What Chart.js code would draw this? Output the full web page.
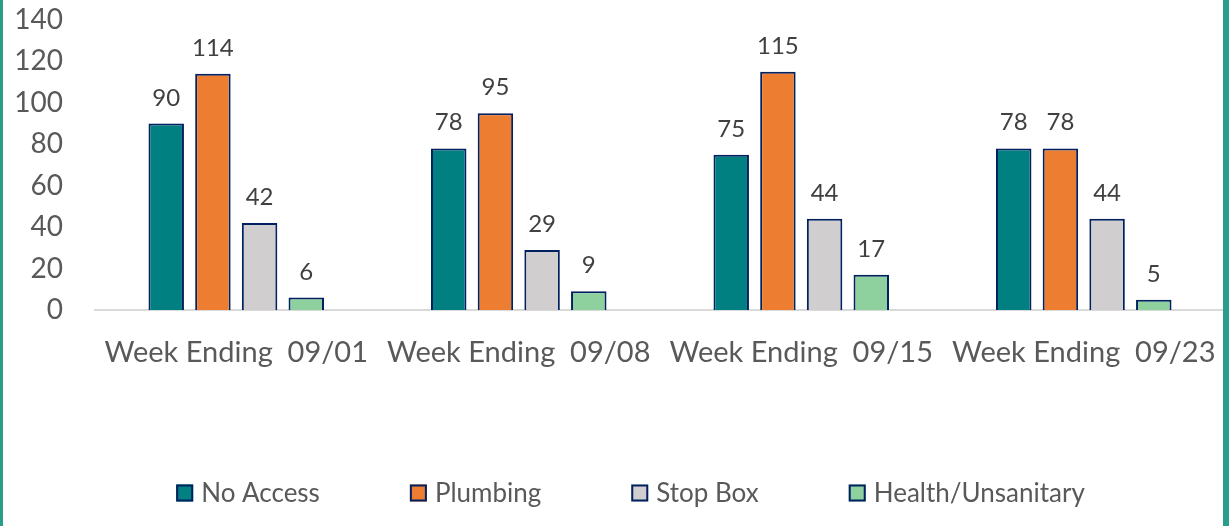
<!DOCTYPE html>
<html><head><meta charset="utf-8">
<script src="https://cdn.jsdelivr.net/npm/chart.js@4"></script>
<style>
html,body{margin:0;padding:0;background:#fff;}
#wrap{position:relative;width:1229px;height:526px;overflow:hidden;}
#bl{position:absolute;left:0;top:0;width:3px;height:526px;background:#2A9D8A;}
#br{position:absolute;right:0;top:0;width:6px;height:526px;background:#2A9D8A;}
canvas{display:block;}
</style></head><body>
<div id="wrap"><canvas id="c" width="1229" height="526"></canvas><div id="bl"></div><div id="br"></div></div>
<script>
const categories = ['Week Ending  09/01', 'Week Ending  09/08', 'Week Ending  09/15', 'Week Ending  09/23'];
const seriesNames = ['No Access', 'Plumbing', 'Stop Box', 'Health/Unsanitary'];
const noAccess = [90, 78, 75, 78];
const plumbing = [114, 95, 115, 78];
const stopBox = [42, 29, 44, 44];
const health = [6, 9, 17, 5];
const yTickValues = [0, 20, 40, 60, 80, 100, 120, 140];

const fillColors = ['#008080', '#ED7D31', '#D0CECE', '#8FD19E'];
const edgeColor = '#002060';
const FONT = 'Lato, "Noto Sans", sans-serif';

const valueLabels = {
  id: 'valueLabels',
  afterDatasetsDraw(chart) {
    const ctx = chart.ctx;
    ctx.save();
    ctx.font = '24px ' + FONT;
    ctx.fillStyle = '#404040';
    ctx.textAlign = 'center';
    ctx.textBaseline = 'alphabetic';
    chart.data.datasets.forEach((ds, i) => {
      chart.getDatasetMeta(i).data.forEach((el, j) => {
        ctx.fillText(String(ds.data[j]), el.x, el.y - 18);
      });
    });
    ctx.restore();
  }
};

const bottomLegend = {
  id: 'bottomLegend',
  afterDraw(chart) {
    const ctx = chart.ctx;
    ctx.save();
    ctx.font = '26px ' + FONT;
    const box = 17, gapText = 8, gapItem = 90;
    const widths = seriesNames.map(n => box + gapText + ctx.measureText(n).width);
    const total = widths.reduce((a, b) => a + b, 0) + gapItem * (seriesNames.length - 1);
    let x = 630.5 - total / 2;
    const yc = 493;
    seriesNames.forEach((n, i) => {
      ctx.fillStyle = fillColors[i];
      ctx.fillRect(x, yc - box / 2, box, box);
      ctx.strokeStyle = edgeColor;
      ctx.lineWidth = 2;
      ctx.strokeRect(x + 1, yc - box / 2 + 1, box - 2, box - 2);
      ctx.fillStyle = '#595959';
      ctx.textAlign = 'left';
      ctx.textBaseline = 'middle';
      ctx.fillText(n, x + box + gapText, yc + 1);
      x += widths[i] + gapItem;
    });
    ctx.restore();
  }
};

const datasets = [noAccess, plumbing, stopBox, health].map((d, i) => ({
  label: seriesNames[i],
  data: d,
  backgroundColor: fillColors[i],
  borderColor: edgeColor,
  borderWidth: 2,
  categoryPercentage: 0.661,
  barPercentage: 0.76
}));

new Chart(document.getElementById('c'), {
  type: 'bar',
  data: { labels: categories, datasets },
  options: {
    responsive: false,
    devicePixelRatio: 1,
    animation: false,
    layout: { padding: { top: 20, right: 4, bottom: 150, left: 0 } },
    plugins: { legend: { display: false }, tooltip: { enabled: false } },
    scales: {
      x: {
        grid: { display: false, drawTicks: true, tickLength: 25 },
        border: { display: true, color: '#D9D9D9', width: 2 },
        ticks: { color: '#595959', font: { family: FONT, size: 29 }, padding: 0, maxRotation: 0, autoSkip: false },
        afterFit(scale) { scale.height = 66; }
      },
      y: {
        min: 0, max: 140,
        grid: { display: false, drawTicks: true, tickLength: 32 },
        border: { display: false },
        afterBuildTicks(scale) { scale.ticks = yTickValues.map(v => ({ value: v })); },
        ticks: { color: '#595959', font: { family: FONT, size: 28 }, padding: 0 },
        afterFit(scale) { scale.width = 95; }
      }
    }
  },
  plugins: [valueLabels, bottomLegend]
});
</script>
</body></html>
